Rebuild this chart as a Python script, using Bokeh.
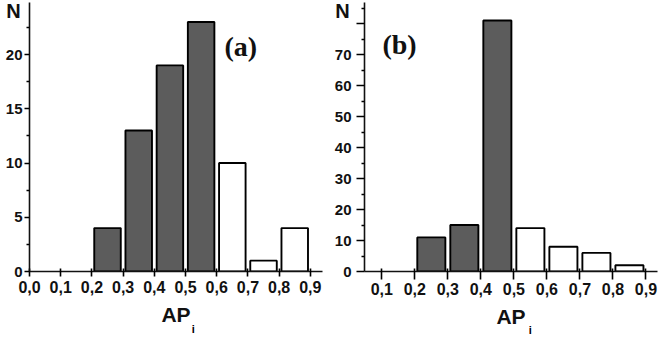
from bokeh.plotting import figure
from bokeh.layouts import row
from bokeh.models import Label, FixedTicker, CustomJSTickFormatter, LinearAxis
from bokeh.embed import file_html
from bokeh.resources import INLINE

# ---- data ----
bin_centers = [0.25, 0.35, 0.45, 0.55, 0.65, 0.75, 0.85]
counts_a = [4, 13, 19, 23, 10, 1, 4]
counts_b = [11, 15, 81, 14, 8, 6, 2]
dark_bins_a = 4   # first bins drawn dark in (a)
dark_bins_b = 3   # first bins drawn dark in (b)
x_ticks_a = [0.0, 0.1, 0.2, 0.3, 0.4, 0.5, 0.6, 0.7, 0.8, 0.9]
x_ticks_b = [0.1, 0.2, 0.3, 0.4, 0.5, 0.6, 0.7, 0.8, 0.9]
y_ticks_a = [0, 5, 10, 15, 20]
y_ticks_b = [0, 10, 20, 30, 40, 50, 60, 70, 80]
y_minor_a = [2.5, 7.5, 12.5, 17.5, 22.5]
y_minor_b = [5, 15, 25, 35, 45, 55, 65, 75, 85]
panel_a = "(a)"
panel_b = "(b)"
y_title = "N"
x_title = "AP"
x_sub = "i"

DARK = "#5c5c5c"
FONT = "Liberation Sans"
BAR_W = 0.085

comma_fmt = CustomJSTickFormatter(code="return tick.toFixed(1).replace('.', ',');")
sub_fmt = CustomJSTickFormatter(code="return '%s';" % x_sub)


def make_panel(counts, n_dark, xt, yt, ymin, xr, yr, bl, br, bb, tag, tag_xy, sub_x,
               ytick_out, ystand, xtick_out, xstand, n_standoff, sub_stand, hide_labels=None):
    p = figure(width=332, height=338, x_range=xr, y_range=yr,
               output_backend="svg", toolbar_location=None,
               min_border_left=bl, min_border_right=br, min_border_top=2,
               min_border_bottom=bb)
    p.outline_line_color = None
    p.xgrid.visible = False
    p.ygrid.visible = False
    p.background_fill_color = "white"
    p.border_fill_color = "white"

    fills = [DARK if i < n_dark else "white" for i in range(len(counts))]
    p.vbar(x=bin_centers, top=counts, bottom=0, width=BAR_W, fill_color=fills,
           line_color="black", line_width=1.9)

    xa = p.xaxis[0]
    xa.ticker = FixedTicker(ticks=xt)
    xa.formatter = comma_fmt
    xa.major_tick_in = 3
    xa.major_tick_out = xtick_out
    xa.minor_tick_line_color = None
    xa.axis_line_width = 1.6
    xa.axis_line_color = "#111111"
    xa.major_tick_line_width = 1.6
    xa.major_label_text_font = FONT
    xa.major_label_text_font_style = "bold"
    xa.major_label_text_font_size = "16px"
    xa.major_label_text_color = "#111111"
    xa.major_label_standoff = xstand
    xa.axis_label = x_title
    xa.axis_label_text_font = FONT
    xa.axis_label_text_font_style = "bold"
    xa.axis_label_text_font_size = "21px"
    xa.axis_label_text_color = "#111111"
    xa.axis_label_standoff = 7

    # subscript "i" of AP_i, drawn as a one-tick axis under the main x axis
    sa = LinearAxis(ticker=FixedTicker(ticks=[sub_x]), formatter=sub_fmt)
    sa.axis_line_color = None
    sa.major_tick_line_color = None
    sa.minor_tick_line_color = None
    sa.major_tick_in = 0
    sa.major_tick_out = 0
    sa.major_label_standoff = sub_stand
    sa.major_label_text_font = FONT
    sa.major_label_text_font_style = "bold"
    sa.major_label_text_font_size = "11px"
    sa.major_label_text_color = "#000000"
    p.add_layout(sa, "below")

    ya = p.yaxis[0]
    ya.ticker = FixedTicker(ticks=yt, minor_ticks=ymin)
    ya.major_tick_in = 0
    ya.major_tick_out = ytick_out
    ya.minor_tick_in = 0
    ya.minor_tick_out = 3
    ya.axis_line_width = 1.6
    ya.axis_line_color = "#111111"
    ya.major_tick_line_width = 1.6
    ya.minor_tick_line_width = 1.4
    ya.major_label_text_font = FONT
    ya.major_label_text_font_style = "bold"
    ya.major_label_text_font_size = "15px"
    ya.major_label_text_color = "#111111"
    ya.major_label_standoff = ystand
    if hide_labels:
        ya.major_label_overrides = {v: "" for v in hide_labels}
    # "N" shown horizontally at the top of the y axis (leading blank line pushes it down)
    ya.axis_label = "\n" + y_title
    ya.axis_label_text_font = FONT
    ya.axis_label_text_font_style = "bold"
    ya.axis_label_text_font_size = "20px"
    ya.axis_label_text_color = "#111111"
    ya.axis_label_text_line_height = 0.75
    ya.axis_label_standoff = n_standoff
    ya.axis_label_orientation = "horizontal"
    ya.axis_label_align = "end"

    p.add_layout(Label(x=tag_xy[0], y=tag_xy[1], text=tag, text_font="Liberation Serif",
                       text_font_style="bold", text_font_size="28px", text_color="#111111",
                       text_baseline="alphabetic"))
    return p


pa = make_panel(counts_a, dark_bins_a, x_ticks_a, y_ticks_a, y_minor_a, (0.0, 0.939), (0, 24.8),
                29, 10, 67, panel_a, (0.625, 20.7), 0.525,
                5, 2, 5, 4, -18, -6)
pb = make_panel(counts_b, dark_bins_b, x_ticks_b, y_ticks_b, y_minor_b, (0.0476, 0.935), (0, 86.8),
                32, 7, 66, panel_b, (0.102, 73.3), 0.55,
                8, 5, 8, 3, -18, -7, hide_labels=[80])

layout = row(pa, pb)
open("out.html", "w").write(file_html(layout, INLINE))
